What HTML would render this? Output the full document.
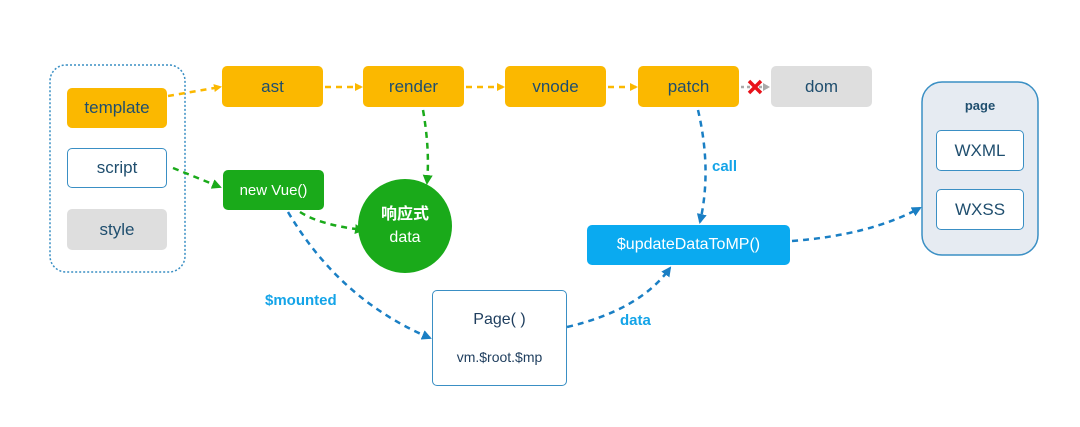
<!DOCTYPE html>
<html><head><meta charset="utf-8"><style>
body{margin:0;width:1080px;height:427px;background:#fff;overflow:hidden;font-family:"Liberation Sans","Noto Sans CJK SC",sans-serif;position:relative}
.b{position:absolute;box-sizing:border-box;display:flex;align-items:center;justify-content:center;font-size:17px;color:#1f4e6e;border-radius:5px}
.y{background:#fbb800}
.g{background:#dedede}
.lbl{position:absolute;font-weight:bold;color:#14a4e8;font-size:15px}
</style></head><body>
<svg width="1080" height="427" style="position:absolute;left:0;top:0">
<defs>
<marker id="ay" markerWidth="8" markerHeight="8" refX="6" refY="4" orient="auto" markerUnits="userSpaceOnUse"><path d="M0,0L8,4L0,8z" fill="#fbb800"/></marker>
<marker id="ag" markerWidth="10" markerHeight="10" refX="8" refY="5" orient="auto" markerUnits="userSpaceOnUse"><path d="M0,0L10,5L0,10z" fill="#1aaa1a"/></marker>
<marker id="ab" markerWidth="10" markerHeight="10" refX="8" refY="5" orient="auto" markerUnits="userSpaceOnUse"><path d="M0,0L10,5L0,10z" fill="#1a7fc4"/></marker>
</defs>
<rect x="50" y="65" width="135" height="207" rx="16" fill="none" stroke="#3a8fc4" stroke-width="1.5" stroke-dasharray="2,2"/>
<g fill="none" stroke-width="2.5" stroke-dasharray="6,5">
<path d="M168,96 L220,87" stroke="#fbb800" marker-end="url(#ay)"/>
<path d="M325,87 L361,87" stroke="#fbb800" marker-end="url(#ay)"/>
<path d="M466,87 L503,87" stroke="#fbb800" marker-end="url(#ay)"/>
<path d="M608,87 L636,87" stroke="#fbb800" marker-end="url(#ay)"/>
<path d="M741,87 L768,87" stroke="#aaa" stroke-dasharray="3,3"/>
<path d="M173,168 L220,187" stroke="#1aaa1a" marker-end="url(#ag)"/>
<path d="M423,110 Q430,150 427,183" stroke="#1aaa1a" marker-end="url(#ag)"/>
<path d="M300,212 Q320,225 363,230" stroke="#1aaa1a" marker-end="url(#ag)"/>
<path d="M288,212 Q340,300 430,338" stroke="#1a7fc4" marker-end="url(#ab)"/>
<path d="M567,327 Q640,310 670,268" stroke="#1a7fc4" marker-end="url(#ab)"/>
<path d="M698,110 Q712,170 700,222" stroke="#1a7fc4" marker-end="url(#ab)"/>
<path d="M792,241 Q870,235 920,208" stroke="#1a7fc4" marker-end="url(#ab)"/>
</g>
<path d="M749,81 L761,93 M761,81 L749,93" stroke="#e8121a" stroke-width="3.5"/>
<path d="M763,83 L770,87 L763,91z" fill="#aaa"/>
<circle cx="405" cy="226" r="47" fill="#1aaa1a"/>
<rect x="922" y="82" width="116" height="173" rx="20" fill="#e6ebf2" stroke="#3a8fc4" stroke-width="1.5"/>
</svg>
<div class="b y" style="left:67px;top:88px;width:100px;height:40px">template</div>
<div class="b" style="left:67px;top:148px;width:100px;height:40px;border:1.5px solid #3a8fc4;background:#fff">script</div>
<div class="b g" style="left:67px;top:209px;width:100px;height:41px">style</div>
<div class="b y" style="left:222px;top:66px;width:101px;height:41px">ast</div>
<div class="b y" style="left:363px;top:66px;width:101px;height:41px">render</div>
<div class="b y" style="left:505px;top:66px;width:101px;height:41px">vnode</div>
<div class="b y" style="left:638px;top:66px;width:101px;height:41px">patch</div>
<div class="b g" style="left:771px;top:66px;width:101px;height:41px">dom</div>
<div class="b" style="left:223px;top:170px;width:101px;height:40px;background:#1aaa1a;color:#fff;font-size:15px">new Vue()</div>
<div class="b" style="left:358px;top:201px;width:94px;height:50px;color:#fff;flex-direction:column;font-size:16px;line-height:23px"><span style="font-weight:bold">响应式</span><span>data</span></div>
<div class="b" style="left:587px;top:225px;width:203px;height:40px;background:#0aaaf0;color:#fff;font-size:16px">$updateDataToMP()</div>
<div class="b" style="left:432px;top:290px;width:135px;height:96px;border:1.5px solid #3a8fc4;background:#fff;flex-direction:column;font-size:14px;color:#1f3e5e"><span style="font-size:16px">Page( )</span><span style="margin-top:20px">vm.$root.$mp</span></div>
<div class="b" style="left:922px;top:96px;width:116px;height:18px;font-weight:bold;font-size:13px">page</div>
<div class="b" style="left:936px;top:130px;width:88px;height:41px;border:1.5px solid #3a8fc4;background:#fff">WXML</div>
<div class="b" style="left:936px;top:189px;width:88px;height:41px;border:1.5px solid #3a8fc4;background:#fff">WXSS</div>
<div class="lbl" style="left:712px;top:158px">call</div>
<div class="lbl" style="left:265px;top:292px">$mounted</div>
<div class="lbl" style="left:620px;top:312px">data</div>
</body></html>
